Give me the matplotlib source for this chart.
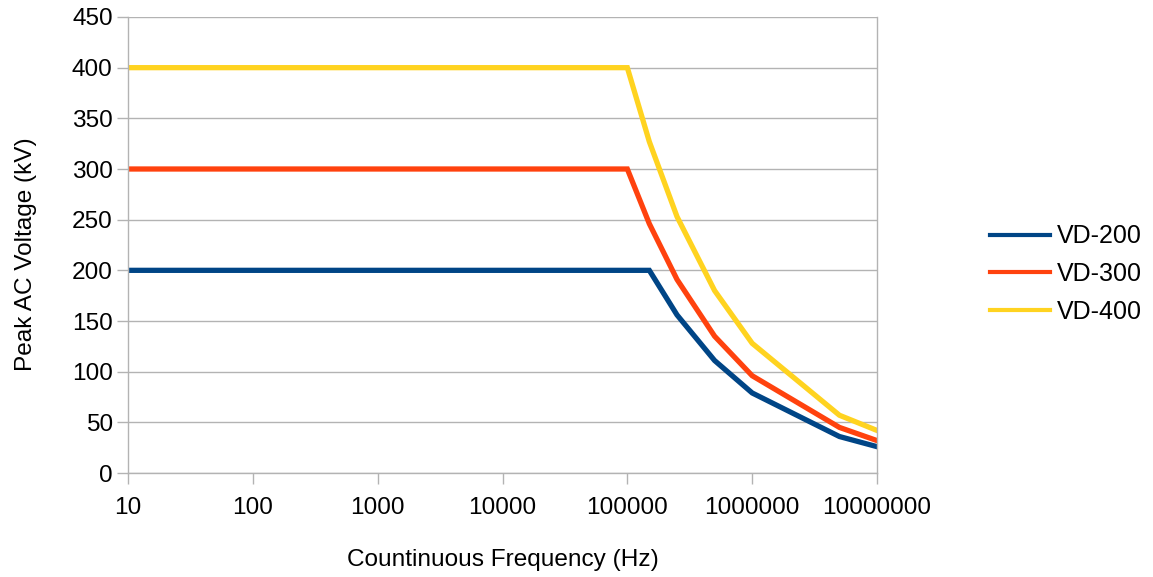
import matplotlib
matplotlib.use("Agg")
import matplotlib.pyplot as plt
from matplotlib.ticker import FixedLocator, FixedFormatter, NullLocator

plt.rcParams['font.family'] = ['Liberation Sans', 'DejaVu Sans']

# Continuous frequency (Hz)
freq = [10, 100, 1000, 10000, 100000, 150000, 250000, 500000, 1000000, 5000000, 10000000]

# Peak AC voltage (kV)
vd200 = [200, 200, 200, 200, 200, 200, 156, 111, 79, 36, 26]
vd300 = [300, 300, 300, 300, 300, 246, 191, 135, 96, 45, 32]
vd400 = [400, 400, 400, 400, 400, 327, 253, 180, 128, 57, 42]

series = [("VD-200", vd200, "#004586"),
          ("VD-300", vd300, "#ff420e"),
          ("VD-400", vd400, "#ffd320")]

x_ticks = [10, 100, 1000, 10000, 100000, 1000000, 10000000]
x_tick_labels = ["10", "100", "1000", "10000", "100000", "1000000", "10000000"]
y_ticks = list(range(0, 451, 50))

fig = plt.figure(figsize=(11.53, 5.77), dpi=100)
ax = fig.add_axes([128 / 1153, 1 - 473 / 577, (877 - 128) / 1153, (473 - 17) / 577])

for name, ys, col in series:
    ax.plot(freq, ys, color=col, lw=3.8, label=name, solid_joinstyle='miter')

ax.set_xscale('log')
ax.set_xlim(10, 1e7)
ax.set_ylim(0, 450)
ax.xaxis.set_major_locator(FixedLocator(x_ticks))
ax.xaxis.set_major_formatter(FixedFormatter(x_tick_labels))
ax.xaxis.set_minor_locator(NullLocator())
ax.set_yticks(y_ticks)

ax.grid(axis='y', color='#b3b3b3', lw=1)
ax.set_axisbelow(True)
for s in ['left', 'bottom', 'right']:
    ax.spines[s].set_color('#b3b3b3')
    ax.spines[s].set_linewidth(1)
ax.spines['top'].set_visible(False)
ax.tick_params(axis='both', colors='#b3b3b3', labelcolor='#000000',
               labelsize=17.6, length=8, width=1)
ax.tick_params(axis='x', pad=9)
ax.tick_params(axis='y', pad=3)

ax.set_xlabel("Countinuous Frequency (Hz)", fontsize=17.6, labelpad=22)
ax.set_ylabel("Peak AC Voltage (kV)", fontsize=17.6, labelpad=25)
ax.yaxis.label.set_y(0.48)

leg = ax.legend(loc='center left', bbox_to_anchor=((990 - 128) / 749, (473 - 274) / 456),
                frameon=False, fontsize=18, handlelength=2.4, handletextpad=0.28,
                labelspacing=0.55, borderaxespad=0, borderpad=0)
for h in leg.get_lines():
    h.set_linewidth(3.0)

fig.savefig("out.png", dpi=100)
